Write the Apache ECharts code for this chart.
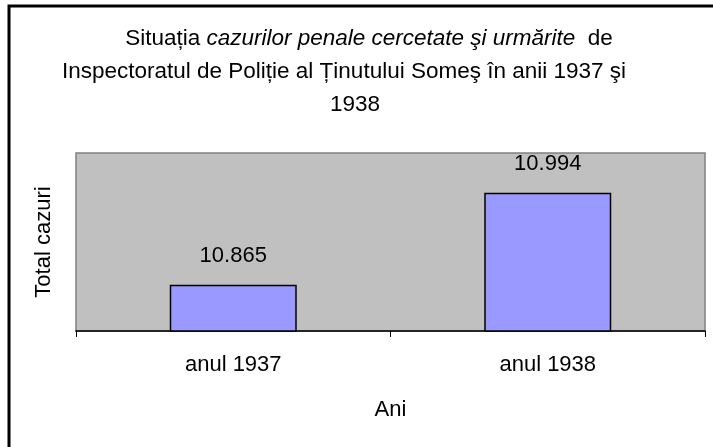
<!DOCTYPE html>
<html>
<head>
<meta charset="utf-8">
<script src="https://cdn.jsdelivr.net/npm/echarts@6/dist/echarts.min.js"></script>
<style>
html,body{margin:0;padding:0;background:#fff}
#chart{width:713px;height:447px}
</style>
</head>
<body>
<div id="chart"></div>
<script>
const categories=['anul 1937','anul 1938'];
const totalCazuri=[10865,10994];
const yMin=10800, yMax=11050;
const titleLines=[
 '{n|Situația }{i|cazurilor penale cercetate şi urmărite}{n|  de}',
 '{n|Inspectoratul de Poliție al Ținutului Someş în anii 1937 şi}',
 '{n|1938}'
];
const titleX=[369,344,355];

function fmt(v){
 return String(v).replace(/\B(?=(\d{3})+(?!\d))/g,'.');
}

var ff='"Liberation Sans", Arial, sans-serif';
var rich={
 n:{fontSize:22.5,color:'#000',fontWeight:'normal',fontFamily:ff},
 i:{fontSize:22.5,color:'#000',fontWeight:'normal',fontStyle:'italic',fontFamily:ff}
};
var c=echarts.init(document.getElementById('chart'));
c.setOption({
 backgroundColor:'#fff',
 textStyle:{fontFamily:ff},
 graphic:[{
  type:'rect',
  shape:{x:9,y:6,width:740,height:470},
  style:{fill:'none',stroke:'#000',lineWidth:3},
  silent:true
 }],
 title:titleLines.map((t,i)=>({
  left:titleX[i],
  top:27+i*33,
  textAlign:'center',
  text:t,
  padding:0,
  textStyle:{fontWeight:'normal',rich:rich}
 })),
 grid:{
  left:76,right:8,top:153,bottom:116,
  show:true,
  backgroundColor:'#C0C0C0',
  borderColor:'#808080',
  borderWidth:1.5
 },
 xAxis:{
  type:'category',
  data:categories,
  name:'Ani',
  nameLocation:'middle',
  nameGap:68,
  nameTextStyle:{fontSize:22,color:'#000'},
  axisLine:{lineStyle:{color:'#000',width:1.5}},
  axisTick:{show:true,length:6,lineStyle:{color:'#000'}},
  axisLabel:{fontSize:22,color:'#000',margin:23}
 },
 yAxis:{
  type:'value',
  min:yMin,
  max:yMax,
  name:'Total cazuri',
  nameLocation:'middle',
  nameGap:21,
  nameTextStyle:{fontSize:22,color:'#000'},
  axisLine:{show:false},
  axisTick:{show:false},
  axisLabel:{show:false},
  splitLine:{show:false}
 },
 series:[{
  type:'bar',
  data:totalCazuri,
  barWidth:127,
  itemStyle:{color:'#9999FF',borderColor:'#000',borderWidth:1.5},
  label:{
   show:true,
   position:'top',
   distance:18,
   fontSize:22,
   color:'#000',
   formatter:p=>fmt(p.value)
  },
  animation:false
 }],
 animation:false
});
</script>
</body>
</html>
